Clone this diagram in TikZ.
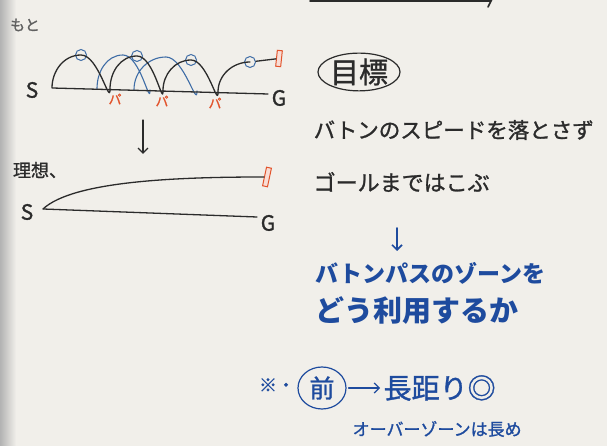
\documentclass[tikz,border=0pt]{standalone}
\usepackage{fontspec}
\setmainfont{Noto Sans CJK JP}
\newfontfamily\markerfont{Noto Sans CJK JP}[FakeBold=1.2]
\usetikzlibrary{positioning,shapes.geometric,arrows.meta}
\definecolor{paper}{HTML}{F1EFEA}
\definecolor{ink}{HTML}{2B2B2B}
\definecolor{marker}{HTML}{1E4B9E}
\definecolor{lightmarker}{HTML}{3F6DA6}
\definecolor{orangeink}{HTML}{E2532B}

\begin{document}
\begin{tikzpicture}[x=1pt,y=1pt,line width=1.3pt,line cap=round,
  every node/.style={inner sep=0pt,text=ink},
  hand/.style={font=\markerfont\fontsize{#1}{#1}\selectfont},
  baton/.style={draw=orangeink,fill=orangeink!20,line width=1pt,minimum width=5pt,minimum height=16pt},
  runner/.style={circle,draw=lightmarker,line width=1pt,minimum size=11pt},
  pointer/.style={-{Straight Barb[length=5pt,width=10pt]}},
  paLabel/.style={hand=13,text=orangeink}]
  \fill[paper] (0,0) rectangle (607,446);
  \shade[left color=black!30,right color=paper] (0,0) rectangle (16,446);
  \useasboundingbox (0,0) rectangle (607,446);

  \node[hand=15,text=ink!75] (moto) at (25,421) {もと};
  \node[hand=21] (S1) at (32,356) {S};
  \node[hand=21] (G1) at (279,348) {G};
  \coordinate (s1) at (52,358);
  \coordinate (p1) at (110,357);
  \coordinate (p2) at (163,355.5);
  \coordinate (p3) at (218,354);
  \coordinate (e1) at (268,352);
  \node[runner] (run1) at (81,391) {};
  \node[runner] (run2) at (137,390) {};
  \node[runner] (run3) at (191,386) {};
  \node[runner] (run4) at (250,384) {};
  \node[baton,rotate=-6] (bat1) at (279,387.5) {};
  \draw[lightmarker,line width=1.1pt]
    (97,357.5) to[out=90,in=180] (123,391) to[out=0,in=-90] (150,356)
    (134,356.5) to[out=90,in=180] (166,389) to[out=0,in=-90] (197,355);
  \draw[ink]
    (s1) -- (e1)
    (s1) to[out=90,in=180] (run1.center) to[out=0,in=-90] (p1)
    (p1) to[out=90,in=180] (run2.center) to[out=0,in=-90] (p2)
    (p2) to[out=90,in=180] (run3.center) to[out=0,in=-90] (p3)
    (p3) to[out=90,in=180] (run4.center);
  \draw[ink] (run4) -- (bat1);
  \node[paLabel] (pa1) at (115,347) {パ};
  \node[paLabel] (pa2) at (162,345) {パ};
  \node[paLabel] (pa3) at (215,343) {パ};

  \coordinate (arrTop) at (143,326);
  \coordinate (arrBot) at (143,292);
  \draw[pointer,ink] (arrTop) -- (arrBot);

  \node[hand=18] (ideal) at (40,276) {理想、};
  \node[hand=21] (S2) at (27,234) {S};
  \node[hand=21] (G2) at (268,223) {G};
  \coordinate (s2) at (43,237);
  \coordinate (e2) at (257,229);
  \node[baton,rotate=-12,minimum height=19pt] (bat2) at (267,269) {};
  \draw[ink] (s2) .. controls +(30,28) and +(-90,0) .. (bat2);
  \draw[ink] (s2) -- (e2);

  \draw[ink,line width=1.6pt] (310,445) -- (491,445) -- (488,439);
  \node[ellipse,draw=ink,line width=1.2pt,minimum width=75pt,minimum height=36pt,hand=29] (goal) at (359,374) {目標};
  \node[hand=21.5,anchor=west] (keep) at (313,316) {バトンのスピードを落とさず};
  \node[hand=22] (carry) [below=52pt of keep.west,anchor=west] {ゴールまではこぶ};

  \coordinate (blueTop) at (397,218);
  \coordinate (blueBot) at (397,195);
  \draw[pointer,marker,line width=1.6pt] (blueTop) -- (blueBot);
  \node[text=marker,font=\bfseries\fontsize{23}{23}\selectfont,anchor=west] (zone) at (315,173) {バトンパスのゾーンを};
  \node[text=marker,font=\bfseries\fontsize{29}{29}\selectfont] (use) [below=38pt of zone.west,anchor=west] {どう利用するか};

  \node[hand=18,text=marker] (note) at (277,61) {※・};
  \node[ellipse,draw=marker,line width=1.2pt,minimum width=48pt,minimum height=42pt,hand=25,text=marker] (mae) at (322,58) {前};
  \node[hand=28,text=marker,anchor=west] (far) at (383,58) {長距り◎};
  \draw[pointer,marker,line width=1.2pt,shorten <=2pt,shorten >=3pt] (mae) -- (far);
  \node[hand=17,text=marker,anchor=west] (over) at (352,17) {オーバーゾーンは長め};
\end{tikzpicture}
\end{document}
